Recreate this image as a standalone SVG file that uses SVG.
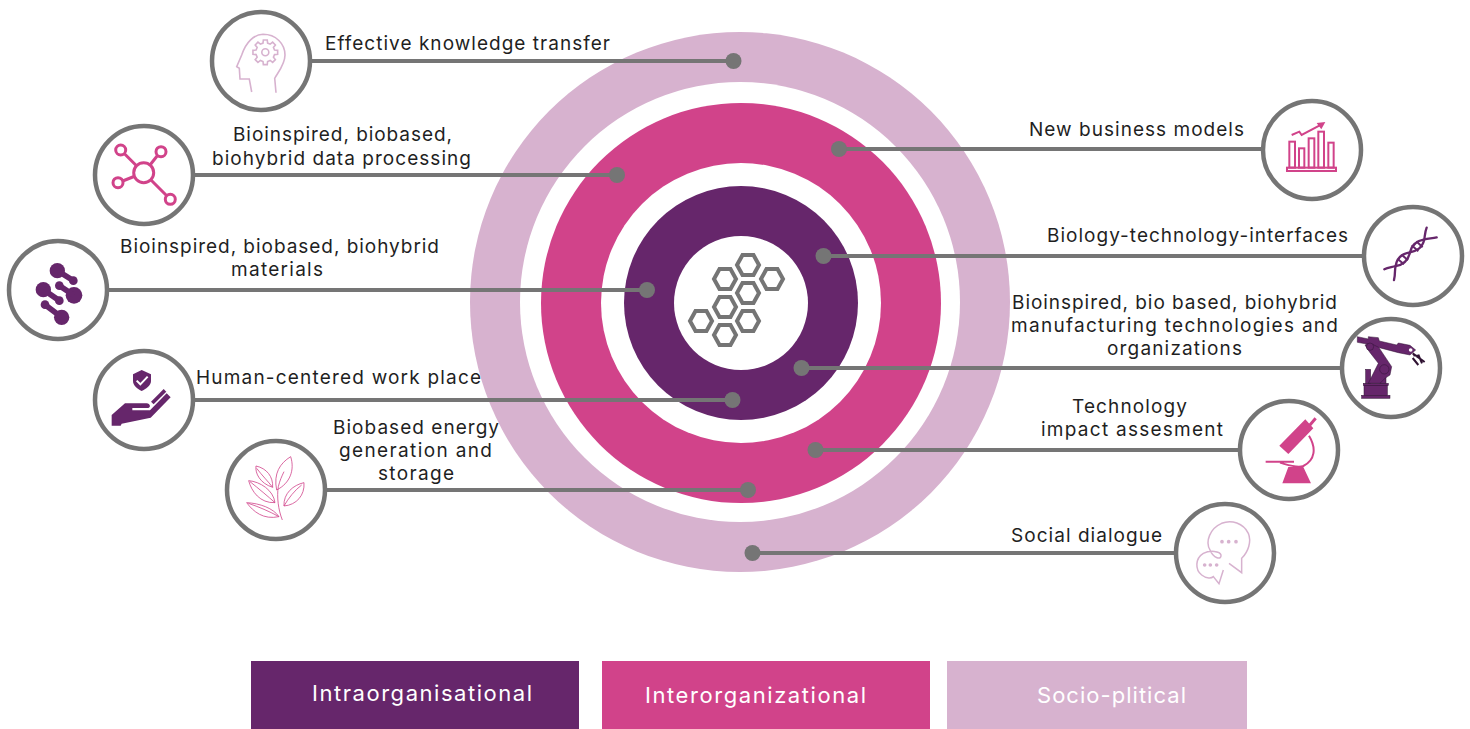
<svg xmlns="http://www.w3.org/2000/svg" width="1470" height="729" viewBox="0 0 1470 729">
<style>
text{font-family:"Inter","Liberation Sans",sans-serif;}
.t{font-size:19px;fill:#1f1f1f}
.l{font-size:22px;fill:#fff}
.ring{fill:#fff;stroke:#757575;stroke-width:4.5}
.c{stroke:#757575;stroke-width:4;fill:none}
.d{fill:#757575}
.hex{fill:none;stroke:#757575;stroke-width:4}
.pk{fill:none;stroke:#D1438A}
.lt{fill:none;stroke:#D7B2CF}
.pu{fill:#66266B}
</style>
<defs>
<polygon id="hx" points="-11,0 -5.5,-10 5.5,-10 11,0 5.5,10 -5.5,10"/>
</defs>
<g id="target">
<circle cx="740" cy="302" r="270" fill="#D7B2CF"/>
<circle cx="740" cy="302" r="220" fill="#fff"/>
<circle cx="741" cy="303" r="200" fill="#D1438A"/>
<circle cx="741" cy="303" r="140" fill="#fff"/>
<circle cx="741" cy="303" r="117" fill="#66266B"/>
<circle cx="741" cy="303" r="67" fill="#fff"/>
</g>
<g id="hexagons" class="hex">
<use href="#hx" x="748" y="265"/><use href="#hx" x="725" y="279"/><use href="#hx" x="772" y="279"/><use href="#hx" x="748" y="293"/><use href="#hx" x="725" y="307"/><use href="#hx" x="701" y="321"/><use href="#hx" x="748" y="321"/><use href="#hx" x="725" y="335"/>
</g>
<g id="connectors">
<path class="c" d="M310 61H733M192 175H617M107 290H647M192 400H732M325 490H748M839 149H1263M823 256H1364M801 368H1342M815 450H1240M752 553H1176"/>
<g class="d"><circle cx="733.500" cy="61" r="8"/><circle cx="617" cy="175" r="8"/><circle cx="647" cy="290" r="8"/><circle cx="732.500" cy="400" r="8"/><circle cx="748" cy="490" r="8"/><circle cx="839" cy="149" r="8"/><circle cx="823.500" cy="256" r="8"/><circle cx="801.500" cy="368" r="8"/><circle cx="815.500" cy="450" r="8"/><circle cx="752.500" cy="553" r="8"/></g>
</g>
<g id="n-knowledge">
<circle class="ring" cx="261" cy="61" r="49"/>
<g class="lt" stroke-width="1.6">
<path d="M251.7 92L249.3 79H240L239.3 68.3L236.7 66.7L241.7 55C246 42 254 34.5 263 34.3C276 34.3 285 44 285 55C285 64 279 71 274.7 78.3L276 92.7"/>
<polygon transform="translate(265.3 52.3)" points="9.22,-2.3 12.35,-1.96 12.35,1.96 9.22,2.3 8.14,4.89 10.11,7.35 7.35,10.11 4.89,8.14 2.3,9.22 1.96,12.35 -1.96,12.35 -2.3,9.22 -4.89,8.14 -7.35,10.11 -10.11,7.35 -8.14,4.89 -9.22,2.3 -12.35,1.96 -12.35,-1.96 -9.22,-2.3 -8.14,-4.89 -10.11,-7.35 -7.35,-10.11 -4.89,-8.14 -2.3,-9.22 -1.96,-12.35 1.96,-12.35 2.3,-9.22 4.89,-8.14 7.35,-10.11 10.11,-7.35 8.14,-4.89"/>
<circle cx="265.3" cy="52.3" r="3.5"/>
</g>
<text class="t" x="325" y="50" textLength="285">Effective knowledge transfer</text>
</g>
<g id="n-data">
<circle class="ring" cx="144" cy="175" r="49"/>
<g class="pk" stroke-width="3">
<circle cx="143.7" cy="172.7" r="10"/><circle cx="120.7" cy="150" r="5"/><circle cx="161" cy="151.7" r="5"/><circle cx="118" cy="182.7" r="5"/><circle cx="170.3" cy="199.3" r="5"/>
<path d="M124.5 153.7L136.5 165.7M157.5 155.5L150 165M122.7 181L134 176.5M151 180L166.5 195.5"/>
</g>
<text class="t" x="233" y="141" textLength="219">Bioinspired, biobased,</text>
<text class="t" x="212" y="165" textLength="259">biohybrid data processing</text>
</g>
<g id="n-materials">
<circle class="ring" cx="58" cy="290" r="49"/>
<g transform="translate(30 258) scale(.3333)">
<g class="pu"><circle cx="82" cy="38" r="23"/><circle cx="130" cy="68" r="13"/><circle cx="40" cy="95" r="23"/><circle cx="88" cy="128" r="13"/><circle cx="88" cy="83" r="13"/><circle cx="132" cy="112" r="25"/><circle cx="45" cy="140" r="13"/><circle cx="95" cy="178" r="23"/></g>
<path fill="none" stroke="#66266B" stroke-width="17" d="M82 38L130 68M40 95L88 128M88 83L132 112M45 140L95 178"/>
</g>
<text class="t" x="120" y="253" textLength="319">Bioinspired, biobased, biohybrid</text>
<text class="t" x="231" y="276" textLength="92">materials</text>
</g>
<g id="n-work">
<circle class="ring" cx="144" cy="400" r="49"/>
<g transform="translate(105 365) scale(.3333)">
<path class="pu" d="M84 28L110 15L138 28V48C138 62 122 72 110 78C98 72 84 62 84 48Z"/>
<path d="M95 47L106 58L128 35" fill="none" stroke="#fff" stroke-width="6"/>
<path class="pu" d="M20 150L60 115H125C136 115 138 128 130 129H82V136H135L185 85L197 97L137 158L50 176L47 182H20Z"/>
<path d="M142 114L180 76" fill="none" stroke="#66266B" stroke-width="11"/>
</g>
<text class="t" x="196" y="384" textLength="285">Human-centered work place</text>
</g>
<g id="n-energy">
<circle class="ring" cx="276" cy="490" r="49"/>
<g transform="translate(80 340) scale(.3333)" class="pk" stroke-width="2.4">
<path d="M607 540C595 510 590 470 595 440C600 420 605 410 612 395"/>
<path d="M590 450C580 400 600 370 632 350C645 390 630 430 590 450Z"/>
<path d="M578 442C540 430 525 400 528 378C560 385 580 410 578 442Z"/>
<path d="M585 488C540 490 515 455 506 422C540 425 580 450 585 488Z"/>
<path d="M612 498C610 460 640 435 672 428C675 465 650 495 612 498Z"/>
<path d="M597 530C550 540 520 515 500 488C540 490 580 505 597 530Z"/>
<path d="M530 385C545 405 565 425 578 442M510 425C535 445 565 470 585 488M505 490C535 500 570 515 597 530M665 435C645 450 625 475 612 498"/>
</g>
<text class="t" x="333" y="434" textLength="166">Biobased energy</text>
<text class="t" x="339" y="457" textLength="153">generation and</text>
<text class="t" x="378" y="480" textLength="76">storage</text>
</g>
<g id="n-business">
<circle class="ring" cx="1312" cy="150" r="49"/>
<g transform="translate(1240 90) scale(.3333)" class="pk" stroke-width="6">
<rect x="148" y="155" width="17" height="78"/><rect x="177" y="175" width="16" height="58"/><rect x="206" y="145" width="17" height="88"/><rect x="235" y="125" width="17" height="108"/><rect x="265" y="158" width="16" height="75"/><rect x="141" y="233" width="147" height="10"/>
<path d="M155 135L178 125L185 135L245 103"/>
<path d="M230 99L256 96L244 118Z" fill="#D1438A" stroke="none"/>
</g>
<text class="t" x="1029" y="136" textLength="215">New business models</text>
</g>
<g id="n-interfaces">
<circle class="ring" cx="1413" cy="256" r="49"/>
<g transform="translate(1375 220) scale(.3333)" fill="none" stroke="#66266B" stroke-width="7" stroke-linecap="round">
<path d="M57 180C62 160 58 150 62 138C66 110 85 100 105 97C125 92 142 85 148 58C150 45 150 35 155 23"/>
<path d="M28 148C40 142 50 142 62 138C85 135 100 120 105 97C110 75 125 62 148 58C160 55 172 55 185 52"/>
<path stroke-width="6" stroke-linecap="butt" d="M69 118L87 133M80 104L99 121M110 76L130 94M124 64L143 82"/>
</g>
<text class="t" x="1047" y="242" textLength="301">Biology-technology-interfaces</text>
</g>
<g id="n-manufacturing">
<circle class="ring" cx="1391" cy="368" r="49"/>
<g transform="translate(1350 330) scale(.3333)">
<g class="pu" stroke="#2f1232" stroke-width="1.500">
<rect x="42" y="165" width="70" height="32"/>
<rect x="35" y="196" width="85" height="9"/>
<rect x="40" y="160" width="75" height="7"/>
<rect x="47" y="118" width="15" height="42"/>
<rect x="90" y="132" width="18" height="28"/>
<path d="M55 160L85 100L58 65L45 45L75 35L125 110L120 135L105 145L90 160Z"/>
<path d="M22 20L55 27V20L85 23L88 33L140 45L145 39L180 46L197 60L180 75L145 68L88 53L70 44L50 42L22 37Z"/>
<circle cx="60" cy="50" r="11"/>
<circle cx="103" cy="118" r="14"/>
</g>
<circle cx="182" cy="60" r="5.500" fill="#fff"/>
<path d="M188 70L224 96M188 84L205 105M205 74L216 100M190 76L208 78" fill="none" stroke="#2f1232" stroke-width="6"/>
</g>
<text class="t" x="1012" y="309" textLength="325">Bioinspired, bio based, biohybrid</text>
<text class="t" x="1011" y="332" textLength="327">manufacturing technologies and</text>
<text class="t" x="1107" y="355" textLength="135">organizations</text>
</g>
<g id="n-impact">
<circle class="ring" cx="1289" cy="450" r="49"/>
<g transform="translate(1160 395) scale(.3333)">
<path fill="#D1438A" d="M358 152L436 73L460 100L385 177ZM367 265L385 216H430L453 265Z"/>
<path fill="none" stroke="#D1438A" stroke-width="9" d="M448 92L467 70"/>
<path fill="none" stroke="#D1438A" stroke-width="6" d="M447 122C470 160 465 195 430 213C410 220 385 210 360 203M317 200H402"/>
</g>
<text class="t" x="1072" y="413" textLength="115">Technology</text>
<text class="t" x="1041" y="436" textLength="182">impact assesment</text>
</g>
<g id="n-social">
<circle class="ring" cx="1225" cy="553" r="49"/>
<g transform="translate(1160 395) scale(.3333)">
<path class="lt" stroke-width="4.500" d="M207 505L245 533V490C265 470 275 440 265 415C250 385 215 373 185 385C150 400 135 440 150 465C160 490 185 497 183 480C180 468 150 465 130 475C105 490 105 525 125 540C140 552 155 550 160 545L177 566L190 525"/>
<g fill="#D7B2CF"><circle cx="186" cy="440" r="5.500"/><circle cx="206" cy="440" r="5.500"/><circle cx="228" cy="440" r="5.500"/><circle cx="134" cy="510" r="5.500"/><circle cx="151" cy="510" r="5.500"/><circle cx="170" cy="510" r="5.500"/></g>
</g>
<text class="t" x="1011" y="542" textLength="151">Social dialogue</text>
</g>
<g id="legend-intra"><rect x="251" y="661" width="328" height="68" fill="#66266B"/><text class="l" x="312" y="701" textLength="220">Intraorganisational</text></g>
<g id="legend-inter"><rect x="602" y="661" width="328" height="68" fill="#D1438A"/><text class="l" x="645" y="703" textLength="221">Interorganizational</text></g>
<g id="legend-socio"><rect x="947" y="661" width="300" height="68" fill="#D7B2CF"/><text class="l" x="1037" y="703" textLength="149">Socio-plitical</text></g>
</svg>
